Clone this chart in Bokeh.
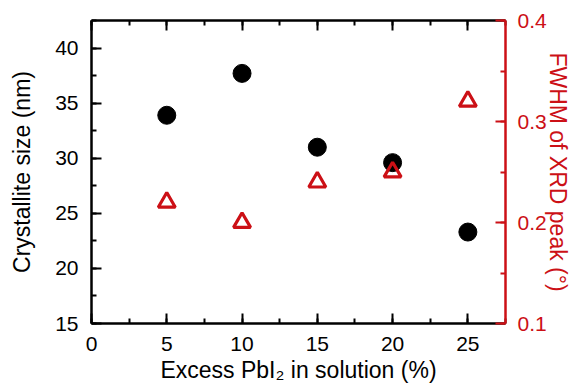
from bokeh.plotting import figure
from bokeh.models import LinearAxis, Range1d, SingleIntervalTicker, CustomLabelingPolicy
from bokeh.embed import file_html
from bokeh.resources import INLINE

excess_pbi2 = [5, 10, 15, 20, 25]
crystallite_nm = [33.9, 37.7, 31.0, 29.6, 23.3]
fwhm_deg = [0.22, 0.20, 0.24, 0.25, 0.32]

RED = "#cc1016"
FONT = "Liberation Sans"
TICK_PX = "21px"
LABEL_PX = "23px"

p = figure(width=574, height=388, output_backend="svg", toolbar_location=None,
           x_range=Range1d(0, 27.5), y_range=Range1d(15, 42.5),
           x_axis_type=None, y_axis_type=None,
           min_border_left=91, min_border_right=69, min_border_top=20, min_border_bottom=65)
p.extra_y_ranges = {"fwhm": Range1d(0.1, 0.4)}
p.grid.visible = False
p.outline_line_color = None
p.background_fill_color = "white"
p.border_fill_color = "white"


def style(ax, color="black"):
    ax.axis_line_width = 2.5
    ax.axis_line_color = color
    ax.major_tick_line_color = color
    ax.minor_tick_line_color = color
    ax.major_tick_line_width = 2
    ax.minor_tick_line_width = 2
    ax.major_tick_in = 10
    ax.major_tick_out = 0
    ax.minor_tick_in = 5
    ax.minor_tick_out = 0
    ax.major_label_text_font = FONT
    ax.major_label_text_font_size = TICK_PX
    ax.major_label_text_color = color
    ax.axis_label_text_font = FONT
    ax.axis_label_text_font_size = LABEL_PX
    ax.axis_label_text_font_style = "normal"
    ax.axis_label_text_color = color
    ax.axis_label_text_line_height = 1.0


xt = SingleIntervalTicker(interval=5, num_minor_ticks=2)
yt = SingleIntervalTicker(interval=5, num_minor_ticks=2)
rt = SingleIntervalTicker(interval=0.1, num_minor_ticks=2)

bottom = LinearAxis(ticker=xt, axis_label="Excess PbI\u2082 in solution (%)")
style(bottom)
bottom.major_label_standoff = 13
bottom.axis_label_standoff = 3
p.add_layout(bottom, "below")

top = LinearAxis(ticker=SingleIntervalTicker(interval=5, num_minor_ticks=2))
style(top)
top.major_label_standoff = 0
top.major_label_policy = CustomLabelingPolicy(
    code="for (const i of Array.from(indices)) { if (indices.unset) indices.unset(i); else indices.set(i, false); } return indices")
p.add_layout(top, "above")

left = LinearAxis(ticker=yt, axis_label="Crystallite size (nm)")
style(left)
left.major_label_standoff = 13
left.axis_label_standoff = 17
p.add_layout(left, "left")

right = LinearAxis(ticker=rt, y_range_name="fwhm", axis_label="FWHM of XRD peak (\u00b0)")
style(right, color=RED)
right.major_label_standoff = 12
right.axis_label_standoff = -5
p.add_layout(right, "right")

p.scatter(excess_pbi2, crystallite_nm, marker="circle", size=18,
          fill_color="black", line_color="black")
p.scatter(excess_pbi2, fwhm_deg, marker="triangle", size=17, y_range_name="fwhm",
          fill_color=None, line_color=RED, line_width=3.2)

open("out.html", "w").write(file_html(p, INLINE))
